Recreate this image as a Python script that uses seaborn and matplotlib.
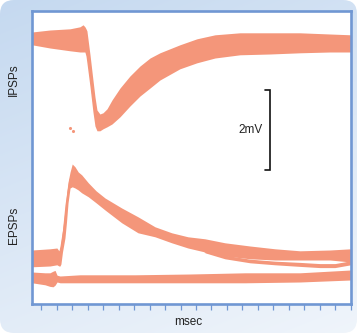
import numpy as np
import pandas as pd
import matplotlib
matplotlib.use("Agg")
import matplotlib.pyplot as plt
import seaborn as sns
from matplotlib.patches import FancyBboxPatch

sns.set_style("white")
plt.rcParams["font.family"] = ["Liberation Sans", "DejaVu Sans"]

# ---- traces: time (msec ticks) and upper / lower envelope of the sweeps (mV) ----
ipsp_t = [-0.60, 0.56, 1.86, 2.50, 2.70, 2.82, 2.89, 2.95, 3.15, 3.34, 3.47,
          3.60, 3.79, 3.99, 4.25, 4.57, 5.09, 5.73, 6.38, 7.03, 7.67, 8.96,
          10.06, 11.23, 12.84, 14.78, 16.72, 18.66, 20.0]
ipsp_hi = [6.80, 6.85, 6.88, 6.93, 6.98, 6.93, 6.88, 6.83, 6.23, 5.60, 5.18,
           4.85, 4.75, 4.78, 4.88, 5.10, 5.40, 5.70, 5.95, 6.15, 6.28, 6.48,
           6.63, 6.73, 6.78, 6.78, 6.78, 6.75, 6.73]
ipsp_lo = [6.48, 6.40, 6.33, 6.30, 6.30, 6.30, 6.20, 6.03, 5.43, 4.80, 4.45,
           4.33, 4.33, 4.38, 4.43, 4.50, 4.68, 4.95, 5.20, 5.40, 5.60, 5.88,
           6.03, 6.15, 6.23, 6.25, 6.28, 6.30, 6.30]

epsp_t = [-0.60, 0.56, 1.01, 1.14, 1.21, 1.27, 1.37, 1.53, 1.63, 1.73, 1.86,
          2.00, 2.18, 2.39, 2.61, 3.04, 3.54, 4.12, 5.20, 6.25, 7.35, 8.43,
          9.48, 10.58, 11.87, 13.49, 15.11, 16.72, 18.66, 20.0]
epsp_hi = [1.35, 1.38, 1.40, 1.33, 1.45, 1.60, 1.85, 2.48, 2.75, 3.05, 3.30,
           3.50, 3.43, 3.30, 3.23, 3.03, 2.83, 2.65, 2.40, 2.18, 1.93, 1.78,
           1.68, 1.63, 1.53, 1.45, 1.38, 1.33, 1.35, 1.38]
epsp_lo = [0.93, 0.95, 0.98, 0.95, 0.95, 1.00, 1.30, 1.65, 2.05, 2.53, 2.90,
           2.93, 2.90, 2.85, 2.78, 2.68, 2.53, 2.35, 2.03, 1.78, 1.68, 1.53,
           1.40, 1.30, 1.20, 1.13, 1.10, 1.10, 1.10, 1.05]

split_t = [10.58, 11.87, 13.49, 15.11, 16.72, 18.01, 18.98, 20.0]
split_hi = [1.33, 1.22, 1.12, 1.07, 1.04, 1.01, 1.01, 1.08]
split_lo = [1.28, 1.13, 1.03, 0.98, 0.94, 0.91, 0.91, 0.98]

fail_t = [-0.60, 0.24, 0.56, 0.76, 0.89, 1.02, 1.21, 2.50, 6.06, 9.61, 13.17, 16.72, 20.0]
fail_hi = [0.80, 0.78, 0.78, 0.82, 0.84, 0.72, 0.70, 0.73, 0.73, 0.75, 0.78, 0.78, 0.85]
fail_lo = [0.53, 0.48, 0.44, 0.43, 0.47, 0.55, 0.53, 0.53, 0.53, 0.53, 0.53, 0.55, 0.60]

stray_t = [1.86, 2.05]
stray_mv = [4.40, 4.33]

ticks = list(range(21))
scale_mv = 2.0
scale_label = "2mV"

TRACE = "#F4967A"
FRAME = "#7097D3"

rows = []
for name, t, hi, lo in [("ipsp", ipsp_t, ipsp_hi, ipsp_lo),
                        ("epsp", epsp_t, epsp_hi, epsp_lo),
                        ("split", split_t, split_hi, split_lo),
                        ("fail", fail_t, fail_hi, fail_lo)]:
    for ti, h, l in zip(t, hi, lo):
        rows.append((name, ti, h))
        rows.append((name, ti, l))
df = pd.DataFrame(rows, columns=["trace", "t", "mV"])

W, H = 361, 336
fig = plt.figure(figsize=(W / 100, H / 100), dpi=100)

# rounded, softly shaded panel behind the plot
bg = fig.add_axes([0, 0, 1, 1])
bg.set_axis_off()
bg.set_xlim(0, W)
bg.set_ylim(H, 0)
u = np.linspace(0, 1, W)[None, :]
v = np.linspace(0, 1, H)[:, None]
mix = np.clip(0.7 * v + 0.3 * u, 0, 1)[..., None]
top_c = np.array([197, 217, 240]) / 255
bot_c = np.array([240, 245, 251]) / 255
img = top_c * (1 - mix) + bot_c * mix
im = bg.imshow(img, extent=(0, W, H, 0), aspect="auto", zorder=0)
panel = FancyBboxPatch((0, 0), 357, 333, boxstyle="round,pad=0,rounding_size=14",
                       facecolor="none", edgecolor="none", transform=bg.transData)
bg.add_patch(panel)
im.set_clip_path(panel)

ax = fig.add_axes([32 / W, 32 / H, (350.7 - 32) / W, (325 - 32) / H])
ax.set_facecolor("white")

sns.lineplot(data=df, x="t", y="mV", hue="trace",
             palette={k: TRACE for k in df["trace"].unique()},
             errorbar=("pi", 100), err_kws={"alpha": 1, "linewidth": 0},
             linewidth=1.0, legend=False, ax=ax)
sns.scatterplot(x=stray_t, y=stray_mv, color=TRACE, s=5, linewidth=0, ax=ax)

# calibration bar
bar_x, bar_top = 14.78, 5.35
ax.plot([bar_x - 0.32, bar_x, bar_x, bar_x - 0.32],
        [bar_top, bar_top, bar_top - scale_mv, bar_top - scale_mv],
        color="#111111", lw=1.2, solid_joinstyle="miter")
ax.text(bar_x - 0.5, bar_top - scale_mv / 2, scale_label, ha="right", va="center",
        fontsize=8.5, color="#222222")

ax.set_xlim(-0.6, 20)
ax.set_ylim(0, 7.325)
ax.set_xticks(ticks)
ax.set_xticklabels([])
ax.set_yticks([])
ax.set_xlabel("")
ax.set_ylabel("")
ax.tick_params(axis="x", bottom=True, direction="out", length=4.5, width=0.9, colors=FRAME)
for s in ax.spines.values():
    s.set_visible(True)
    s.set_color(FRAME)
    s.set_linewidth(1.9)

fig.text(14 / W, 1 - 80 / H, "IPSPs", rotation=90, ha="center", va="center",
         fontsize=8.5, color="#222222")
fig.text(14 / W, 1 - 225 / H, "EPSPs", rotation=90, ha="center", va="center",
         fontsize=8.5, color="#222222")
fig.text(188 / W, 1 - 322 / H, "msec", ha="center", va="center",
         fontsize=8.5, color="#222222")

fig.savefig("out.png", dpi=100)
